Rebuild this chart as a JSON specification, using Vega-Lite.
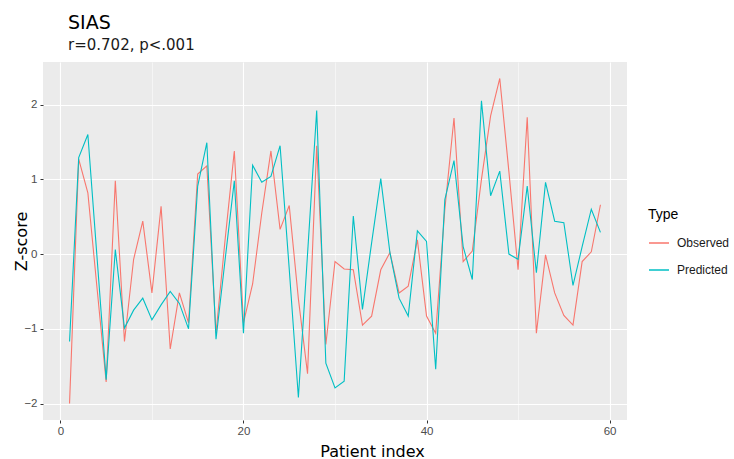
{
  "$schema": "https://vega.github.io/schema/vega-lite/v6.json",
  "width": 584,
  "height": 358,
  "autosize": {"type": "none"},
  "padding": {"left": 43, "top": 62, "right": 107, "bottom": 39},
  "background": "white",
  "title": {
    "text": "SIAS",
    "subtitle": "r=0.702, p<.001",
    "anchor": "start",
    "frame": "group",
    "dx": 25,
    "offset": 9,
    "font": "DejaVu Sans",
    "fontSize": 19,
    "fontWeight": "normal",
    "color": "#000000",
    "subtitleFont": "DejaVu Sans",
    "subtitleFontSize": 15,
    "subtitleColor": "#1A1A1A",
    "subtitlePadding": 5
  },
  "config": {
    "view": {"fill": "#EBEBEB", "stroke": null},
    "axis": {
      "domain": false,
      "gridColor": "#FFFFFF",
      "tickColor": "#333333",
      "tickSize": 3,
      "tickWidth": 1,
      "labelFont": "Liberation Sans",
      "labelFontSize": 11.5,
      "labelColor": "#4D4D4D",
      "titleFont": "DejaVu Sans",
      "titleFontSize": 16,
      "titleFontWeight": "normal",
      "titleColor": "#000000"
    }
  },
  "data": {
    "values": [
      {"i":1,"Type":"Observed","z":-2.0},{"i":2,"Type":"Observed","z":1.27},{"i":3,"Type":"Observed","z":0.82},{"i":4,"Type":"Observed","z":-0.45},{"i":5,"Type":"Observed","z":-1.71},{"i":6,"Type":"Observed","z":0.98},{"i":7,"Type":"Observed","z":-1.17},{"i":8,"Type":"Observed","z":-0.07},{"i":9,"Type":"Observed","z":0.44},{"i":10,"Type":"Observed","z":-0.52},
      {"i":11,"Type":"Observed","z":0.64},{"i":12,"Type":"Observed","z":-1.27},{"i":13,"Type":"Observed","z":-0.52},{"i":14,"Type":"Observed","z":-0.92},{"i":15,"Type":"Observed","z":1.07},{"i":16,"Type":"Observed","z":1.18},{"i":17,"Type":"Observed","z":-1.06},{"i":18,"Type":"Observed","z":0.2},{"i":19,"Type":"Observed","z":1.38},{"i":20,"Type":"Observed","z":-0.92},
      {"i":21,"Type":"Observed","z":-0.4},{"i":22,"Type":"Observed","z":0.55},{"i":23,"Type":"Observed","z":1.38},{"i":24,"Type":"Observed","z":0.33},{"i":25,"Type":"Observed","z":0.65},{"i":26,"Type":"Observed","z":-0.6},{"i":27,"Type":"Observed","z":-1.6},{"i":28,"Type":"Observed","z":1.45},{"i":29,"Type":"Observed","z":-1.21},{"i":30,"Type":"Observed","z":-0.1},
      {"i":31,"Type":"Observed","z":-0.2},{"i":32,"Type":"Observed","z":-0.21},{"i":33,"Type":"Observed","z":-0.95},{"i":34,"Type":"Observed","z":-0.83},{"i":35,"Type":"Observed","z":-0.21},{"i":36,"Type":"Observed","z":0.02},{"i":37,"Type":"Observed","z":-0.52},{"i":38,"Type":"Observed","z":-0.43},{"i":39,"Type":"Observed","z":0.19},{"i":40,"Type":"Observed","z":-0.83},
      {"i":41,"Type":"Observed","z":-1.06},{"i":42,"Type":"Observed","z":0.6},{"i":43,"Type":"Observed","z":1.82},{"i":44,"Type":"Observed","z":-0.1},{"i":45,"Type":"Observed","z":0.04},{"i":46,"Type":"Observed","z":1.0},{"i":47,"Type":"Observed","z":1.85},{"i":48,"Type":"Observed","z":2.35},{"i":49,"Type":"Observed","z":1.1},{"i":50,"Type":"Observed","z":-0.21},
      {"i":51,"Type":"Observed","z":1.83},{"i":52,"Type":"Observed","z":-1.06},{"i":53,"Type":"Observed","z":-0.01},{"i":54,"Type":"Observed","z":-0.52},{"i":55,"Type":"Observed","z":-0.82},{"i":56,"Type":"Observed","z":-0.95},{"i":57,"Type":"Observed","z":-0.1},{"i":58,"Type":"Observed","z":0.03},{"i":59,"Type":"Observed","z":0.66},
      {"i":1,"Type":"Predicted","z":-1.17},{"i":2,"Type":"Predicted","z":1.29},{"i":3,"Type":"Predicted","z":1.6},{"i":4,"Type":"Predicted","z":-0.04},{"i":5,"Type":"Predicted","z":-1.68},{"i":6,"Type":"Predicted","z":0.06},{"i":7,"Type":"Predicted","z":-0.99},{"i":8,"Type":"Predicted","z":-0.75},{"i":9,"Type":"Predicted","z":-0.59},{"i":10,"Type":"Predicted","z":-0.88},
      {"i":11,"Type":"Predicted","z":-0.68},{"i":12,"Type":"Predicted","z":-0.5},{"i":13,"Type":"Predicted","z":-0.66},{"i":14,"Type":"Predicted","z":-1.0},{"i":15,"Type":"Predicted","z":0.91},{"i":16,"Type":"Predicted","z":1.49},{"i":17,"Type":"Predicted","z":-1.14},{"i":18,"Type":"Predicted","z":-0.07},{"i":19,"Type":"Predicted","z":0.98},{"i":20,"Type":"Predicted","z":-1.06},
      {"i":21,"Type":"Predicted","z":1.19},{"i":22,"Type":"Predicted","z":0.96},{"i":23,"Type":"Predicted","z":1.04},{"i":24,"Type":"Predicted","z":1.45},{"i":25,"Type":"Predicted","z":-0.2},{"i":26,"Type":"Predicted","z":-1.92},{"i":27,"Type":"Predicted","z":0.0},{"i":28,"Type":"Predicted","z":1.92},{"i":29,"Type":"Predicted","z":-1.46},{"i":30,"Type":"Predicted","z":-1.79},
      {"i":31,"Type":"Predicted","z":-1.7},{"i":32,"Type":"Predicted","z":0.51},{"i":33,"Type":"Predicted","z":-0.74},{"i":34,"Type":"Predicted","z":0.15},{"i":35,"Type":"Predicted","z":1.01},{"i":36,"Type":"Predicted","z":0.02},{"i":37,"Type":"Predicted","z":-0.59},{"i":38,"Type":"Predicted","z":-0.83},{"i":39,"Type":"Predicted","z":0.31},{"i":40,"Type":"Predicted","z":0.17},
      {"i":41,"Type":"Predicted","z":-1.54},{"i":42,"Type":"Predicted","z":0.73},{"i":43,"Type":"Predicted","z":1.25},{"i":44,"Type":"Predicted","z":0.1},{"i":45,"Type":"Predicted","z":-0.34},{"i":46,"Type":"Predicted","z":2.05},{"i":47,"Type":"Predicted","z":0.78},{"i":48,"Type":"Predicted","z":1.11},{"i":49,"Type":"Predicted","z":0.0},{"i":50,"Type":"Predicted","z":-0.07},
      {"i":51,"Type":"Predicted","z":0.91},{"i":52,"Type":"Predicted","z":-0.25},{"i":53,"Type":"Predicted","z":0.96},{"i":54,"Type":"Predicted","z":0.44},{"i":55,"Type":"Predicted","z":0.42},{"i":56,"Type":"Predicted","z":-0.42},{"i":57,"Type":"Predicted","z":0.1},{"i":58,"Type":"Predicted","z":0.6},{"i":59,"Type":"Predicted","z":0.29}
    ]
  },
  "mark": {"type": "line", "strokeWidth": 1.1, "interpolate": "linear"},
  "encoding": {
    "x": {
      "field": "i",
      "type": "quantitative",
      "scale": {"domain": [-1.9, 61.9], "nice": false, "zero": false},
      "axis": {
        "title": "Patient index",
        "values": [0, 10, 20, 30, 40, 50, 60],
        "format": "d",
        "labelExpr": "datum.value % 20 === 0 ? datum.label : ''",
        "gridWidth": {"condition": {"test": "datum.value % 20 === 0", "value": 1.1}, "value": 0.5},
        "tickOpacity": {"condition": {"test": "datum.value % 20 === 0", "value": 1}, "value": 0},
        "labelPadding": 2,
        "titleX": 329,
        "titleY": 36,
        "titleBaseline": "alphabetic"
      }
    },
    "y": {
      "field": "z",
      "type": "quantitative",
      "scale": {"domain": [-2.22, 2.57], "nice": false, "zero": false},
      "axis": {
        "title": "Z-score",
        "values": [-2, -1.5, -1, -0.5, 0, 0.5, 1, 1.5, 2, 2.5],
        "format": "d",
        "labelExpr": "datum.value % 1 === 0 ? datum.label : ''",
        "gridWidth": {"condition": {"test": "datum.value % 1 === 0", "value": 1.1}, "value": 0.5},
        "tickOpacity": {"condition": {"test": "datum.value % 1 === 0", "value": 1}, "value": 0},
        "labelPadding": 3,
        "titleX": -22,
        "titleY": 179,
        "titleAngle": -90,
        "titleAlign": "center",
        "titleBaseline": "middle"
      }
    },
    "color": {
      "field": "Type",
      "type": "nominal",
      "scale": {"domain": ["Observed", "Predicted"], "range": ["#F8766D", "#00BFC4"]},
      "legend": {
        "orient": "none",
        "legendX": 605,
        "legendY": 146,
        "title": "Type",
        "titleFont": "Liberation Sans",
        "titleFontSize": 14,
        "titleFontWeight": "normal",
        "titleColor": "#000000",
        "labelFont": "Liberation Sans",
        "labelFontSize": 12,
        "labelColor": "#1A1A1A",
        "labelOffset": 7,
        "symbolType": "stroke",
        "symbolSize": 400,
        "symbolStrokeWidth": 1.5,
        "rowPadding": 10,
        "titlePadding": 10
      }
    }
  }
}
